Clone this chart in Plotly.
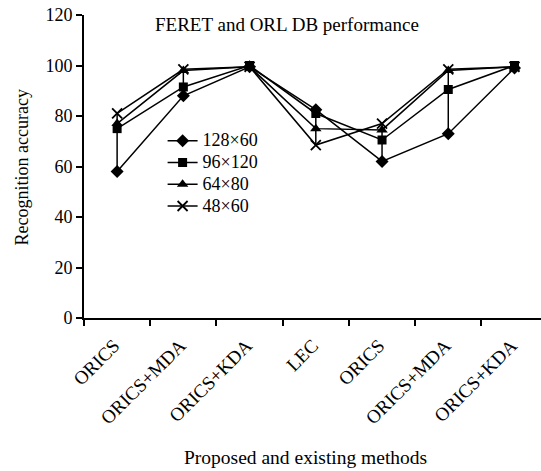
import plotly.graph_objects as go

methods = ["ORICS", "ORICS+MDA", "ORICS+KDA", "LEC", "ORICS", "ORICS+MDA", "ORICS+KDA"]
s_128x60 = [58, 88, 99.5, 82.5, 62, 73, 99]
s_96x120 = [75, 91.5, 100, 81, 70.5, 90.5, 100]
s_64x80 = [77, 98, 99.5, 75, 74.5, 98, 99.5]
s_48x60 = [81, 98.5, 99.5, 68.5, 77, 98.5, 99.5]
series_names = ["128×60", "96×120", "64×80", "48×60"]
yticks = [0, 20, 40, 60, 80, 100, 120]

FONT = "Liberation Serif"
xs = list(range(len(methods)))
all_series = [s_128x60, s_96x120, s_64x80, s_48x60]
symbols = ["diamond", "square", "triangle-up", "x-thin-open"]
sizes = [10, 9, 10, 10]

fig = go.Figure()

# high-low lines
hx, hy = [], []
for i in xs:
    vals = [s[i] for s in all_series]
    hx += [i, i, None]
    hy += [min(vals), max(vals), None]
fig.add_trace(go.Scatter(x=hx, y=hy, mode="lines", line=dict(color="black", width=1.5),
                         showlegend=False, hoverinfo="skip"))

for name, s, sym, sz in zip(series_names, all_series, symbols, sizes):
    fig.add_trace(go.Scatter(
        x=xs, y=s, name='<span style="font-size:18px">' + name + '</span>',
        mode="lines+markers",
        line=dict(color="black", width=1.5),
        marker=dict(symbol=sym, size=sz, color="black",
                    line=dict(color="black", width=1.8 if sym.startswith("x") else 0)),
    ))

fig.update_layout(
    width=541, height=471,
    margin=dict(l=84, r=0, t=15, b=153, autoexpand=False),
    paper_bgcolor="white", plot_bgcolor="white",
    font=dict(family=FONT, size=18, color="black"),
    legend=dict(x=0.172, y=0.637, xanchor="left", yanchor="top",
                bgcolor="rgba(0,0,0,0)", font=dict(size=14.4),
                itemwidth=30, tracegroupgap=0),
    showlegend=True,
    annotations=[
        dict(text="FERET and ORL DB performance", x=0.445, y=0.967, xref="paper", yref="paper",
             xanchor="center", yanchor="middle", showarrow=False, font=dict(size=19)),
        dict(text="Recognition accuracy", x=-0.135, y=0.498, xref="paper", yref="paper",
             xanchor="center", yanchor="middle",
             textangle=-90, showarrow=False, font=dict(size=18)),
        dict(text="Proposed and existing methods", x=0.484, y=-0.462, xref="paper", yref="paper",
             xanchor="center", yanchor="middle", showarrow=False, font=dict(size=19.5)),
    ],
)
fig.update_xaxes(
    range=[-0.5, 6.4], tickmode="array", tickvals=xs, ticktext=methods,
    tickangle=-45, ticks="", showgrid=False, zeroline=False, automargin=False,
    ticklabelshift=-3, ticklabelstandoff=7,
    showline=True, linecolor="black", linewidth=2,
    minor=dict(tickmode="array", tickvals=[i - 0.5 for i in range(len(methods) + 1)],
               ticks="outside", ticklen=6, tickwidth=2, tickcolor="black", showgrid=False),
    tickfont=dict(size=19),
)
fig.update_yaxes(
    range=[0, 120], tickmode="array", tickvals=yticks, automargin=False,
    ticklabeloverflow="allow",
    ticks="outside", ticklen=6, tickwidth=2, tickcolor="black",
    showgrid=False, zeroline=False, showline=True, linecolor="black", linewidth=2,
    tickfont=dict(size=18),
)
fig.write_html("out.html", post_script="document.body.style.margin='0px';",
               config={"displayModeBar": False})
